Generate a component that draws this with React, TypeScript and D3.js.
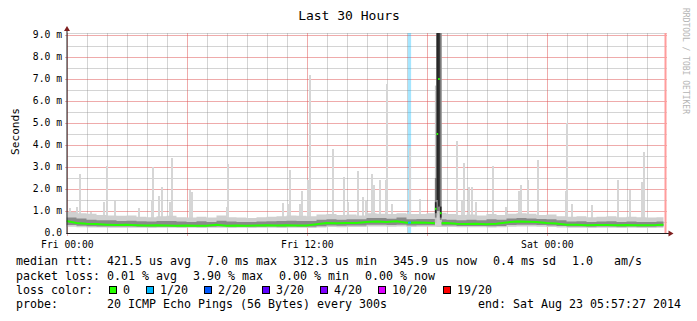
import React from "react";
import * as d3 from "d3";

// ---------- data ----------
const HOUR_MS = 3600 * 1000;
const startTime = new Date(2014, 7, 21, 23, 57, 27);
const endTime = new Date(2014, 7, 23, 5, 57, 27);

const title = "Last 30 Hours";
const yAxisTitle = "Seconds";
const watermark = "RRDTOOL / TOBI OETIKER";

const yMaxMs = 9.09;
const yTickValues = [0, 1, 2, 3, 4, 5, 6, 7, 8, 9];
const yTickLabels = ["0.0", "1.0 m", "2.0 m", "3.0 m", "4.0 m", "5.0 m", "6.0 m", "7.0 m", "8.0 m", "9.0 m"];
const xLabelTimes = [new Date(2014, 7, 22, 0, 0, 0), new Date(2014, 7, 22, 12, 0, 0), new Date(2014, 7, 23, 0, 0, 0)];
const xLabelTexts = ["Fri 00:00", "Fri 12:00", "Sat 00:00"];

// half-hour samples (ms), hour offset = i * 0.5
const sampleStepHours = 0.5;
const lastSampleHour = 29.85;
const medianMs = [
  0.55, 0.45, 0.42, 0.41, 0.38, 0.36, 0.37, 0.35, 0.34, 0.35,
  0.34, 0.33, 0.34, 0.33, 0.33, 0.37, 0.33, 0.34, 0.33, 0.34,
  0.35, 0.34, 0.35, 0.34, 0.34, 0.40, 0.45, 0.44, 0.46, 0.46,
  0.50, 0.52, 0.50, 0.53, 0.47, 0.48, 0.47, 0.44, 0.45, 0.42,
  0.41, 0.42, 0.40, 0.42, 0.48, 0.52, 0.51, 0.50, 0.45, 0.43,
  0.38, 0.37, 0.35, 0.36, 0.36, 0.35, 0.36, 0.35, 0.35, 0.36, 0.38,
];
const smokeMaxMs = [
  0.95, 0.90, 0.88, 0.82, 0.80, 0.78, 0.80, 0.74, 0.72, 0.76,
  0.78, 0.72, 0.70, 0.74, 0.70, 0.80, 0.72, 0.70, 0.68, 0.72,
  0.74, 0.76, 0.80, 0.78, 0.76, 0.84, 0.86, 0.82, 0.84, 0.80,
  0.90, 0.88, 0.86, 0.90, 0.86, 0.86, 0.90, 0.92, 0.86, 0.82,
  0.84, 0.80, 0.86, 0.82, 0.88, 0.90, 0.88, 0.82, 0.84, 0.76,
  0.74, 0.76, 0.72, 0.74, 0.76, 0.72, 0.74, 0.72, 0.70, 0.72, 0.72,
];
const smokeHiMs = [
  0.70, 0.66, 0.60, 0.58, 0.58, 0.55, 0.56, 0.53, 0.52, 0.54,
  0.55, 0.52, 0.50, 0.53, 0.50, 0.56, 0.52, 0.50, 0.50, 0.52,
  0.53, 0.54, 0.56, 0.55, 0.54, 0.60, 0.63, 0.60, 0.62, 0.62,
  0.68, 0.68, 0.65, 0.70, 0.63, 0.64, 0.64, 0.62, 0.60, 0.58,
  0.60, 0.58, 0.62, 0.60, 0.66, 0.68, 0.66, 0.64, 0.62, 0.58,
  0.52, 0.53, 0.50, 0.52, 0.53, 0.50, 0.52, 0.50, 0.50, 0.52, 0.52,
];
const smokeLoMs = [
  0.36, 0.33, 0.31, 0.30, 0.29, 0.29, 0.29, 0.28, 0.28, 0.28,
  0.28, 0.28, 0.28, 0.28, 0.28, 0.29, 0.28, 0.28, 0.28, 0.28,
  0.29, 0.28, 0.29, 0.28, 0.28, 0.31, 0.34, 0.33, 0.34, 0.34,
  0.37, 0.38, 0.36, 0.38, 0.34, 0.35, 0.35, 0.34, 0.34, 0.32,
  0.32, 0.32, 0.31, 0.32, 0.36, 0.38, 0.37, 0.36, 0.34, 0.32,
  0.29, 0.29, 0.28, 0.29, 0.29, 0.28, 0.29, 0.28, 0.28, 0.29, 0.29,
];
const smokeMinMs = [
  0.28, 0.26, 0.25, 0.25, 0.24, 0.24, 0.24, 0.24, 0.23, 0.24,
  0.24, 0.23, 0.24, 0.23, 0.24, 0.24, 0.23, 0.24, 0.23, 0.24,
  0.24, 0.23, 0.24, 0.24, 0.23, 0.25, 0.27, 0.26, 0.27, 0.27,
  0.29, 0.30, 0.28, 0.30, 0.27, 0.28, 0.28, 0.27, 0.27, 0.26,
  0.26, 0.26, 0.25, 0.26, 0.28, 0.30, 0.29, 0.28, 0.27, 0.25,
  0.24, 0.24, 0.23, 0.24, 0.24, 0.23, 0.24, 0.23, 0.23, 0.24, 0.24,
];

// isolated high pings (hour offset from start, max rtt in ms)
const spikeHours = [
  0.17, 0.52, 0.67, 1.22, 1.85, 2.03, 2.43, 3.6, 4.25, 4.33, 4.6, 4.77, 5.17, 5.27, 6.18, 6.27,
  8.0, 8.08, 10.82, 11.07, 11.18, 11.65, 11.77, 12.07, 12.18, 13.3, 13.85, 14.07, 14.57, 14.8,
  14.97, 15.27, 15.35, 15.68, 15.97, 16.02, 16.27, 17.18, 17.68, 19.53, 19.78, 19.87, 20.12,
  20.28, 20.48, 21.33, 21.95, 22.62, 22.7, 23.08, 23.58, 24.95, 25.03, 25.25, 26.25, 27.58,
  28.15, 28.78, 28.87,
];
const spikeMaxMs = [
  1.15, 1.2, 2.7, 0.95, 1.4, 3.05, 1.45, 1.15, 1.5, 3.0, 1.7, 2.1, 1.4, 3.4, 1.95, 1.85,
  1.2, 3.15, 1.35, 1.3, 2.85, 1.3, 1.9, 2.4, 7.2, 3.8, 2.55, 1.4, 2.8, 1.65,
  1.5, 2.7, 2.2, 2.4, 2.4, 6.75, 1.3, 3.85, 1.55, 4.2, 1.45, 3.2, 2.1,
  2.1, 1.4, 3.05, 1.2, 1.9, 2.2, 2.4, 3.3, 1.9, 5.0, 1.3, 1.25, 2.4,
  1.95, 2.3, 3.7,
];

// the big latency burst, 5-minute steps
const burstStepHours = 5 / 60;
const burstStartHours = [18.42, 18.5, 18.58, 18.67];
const burstMinMs = [0.45, 0.8, 0.9, 0.5];
const burstP10Ms = [0.7, 1.0, 1.0, 0.6];
const burstP25Ms = [0.9, 1.5, 1.2, 0.7];
const burstP75Ms = [1.4, 9.09, 9.09, 1.2];
const burstP90Ms = [2.5, 9.09, 9.09, 9.09];
const burstMaxMs = [6.7, 9.09, 9.09, 9.09];
const burstMedianMs = [1.1, 4.5, 7.0, 0.9];

// packet loss events
const lossStartHours = [17.07];
const lossEndHours = [17.23];

const lossColors = ["#26ff00", "#00b8ff", "#0059ff", "#5e00ff", "#7e00ff", "#dd00ff", "#ff0000"];
const lossLabels = ["0", "1/20", "2/20", "3/20", "4/20", "10/20", "19/20"];

const legendRow1 = ["median rtt:  421.5 us avg", "7.0 ms max", "312.3 us min", "345.9 us now", "0.4 ms sd", "1.0   am/s"];
const legendRow2 = ["packet loss: 0.01 % avg", "3.90 % max", "0.00 % min", "0.00 % now"];
const legendRow3Label = "loss color:";
const legendRow4 = "probe:       20 ICMP Echo Pings (56 Bytes) every 300s";
const legendEnd = "end: Sat Aug 23 05:57:27 2014";

// ---------- layout ----------
const W = 697;
const H = 321;
const X0 = 66.5;
const X1 = 666.5;
const Y0 = 233;
const Y1 = 33;
const MONO = "'DejaVu Sans Mono', 'Liberation Mono', monospace";
const CHAR_W = 7.0;
const GLUE = 16;

export default function App() {
  const x = d3.scaleTime().domain([startTime, endTime]).range([X0, X1]);
  const y = d3.scaleLinear().domain([0, yMaxMs]).range([Y0, Y1]);
  const atHour = (h: number) => new Date(startTime.getTime() + h * HOUR_MS);
  const sampleTimes = medianMs.map((_, i) => atHour(Math.min(i * sampleStepHours, lastSampleHour)));

  const band = (lo: number[], hi: number[]) =>
    d3
      .area<number>()
      .x((_, i) => x(sampleTimes[i]))
      .y0((_, i) => y(lo[i]))
      .y1((_, i) => y(hi[i]))
      .curve(d3.curveStepAfter)(lo) || "";

  const medianPath =
    d3
      .line<number>()
      .x((_, i) => x(sampleTimes[i]))
      .y((d) => y(d))
      .curve(d3.curveLinear)(medianMs) || "";

  const minorHours = d3.timeHour.every(1)!.range(startTime, endTime);
  const majorHours = minorHours.filter((d) => d.getHours() % 6 === 0);
  const minorX = minorHours.filter((d) => d.getHours() % 6 !== 0);
  const minorY = [...d3.range(0.5, yMaxMs, 1), yMaxMs];

  const burstX0 = x(atHour(burstStartHours[0]));
  const burstX1 = x(atHour(burstStartHours[burstStartHours.length - 1] + burstStepHours));
  const stepW = x(atHour(burstStepHours)) - x(atHour(0));

  // legend positions
  const row1X: number[] = [];
  legendRow1.reduce((acc, s) => { row1X.push(acc); return acc + s.length * CHAR_W + GLUE; }, 16);
  const row2X: number[] = [];
  legendRow2.reduce((acc, s) => { row2X.push(acc); return acc + s.length * CHAR_W + GLUE; }, 16);
  const boxX: number[] = [];
  lossLabels.reduce((acc, s) => { boxX.push(acc); return acc + 14 + s.length * CHAR_W + GLUE; }, 16 + legendRow3Label.length * CHAR_W + GLUE);

  const burstLayers: [number[], number[], string][] = [
    [burstMinMs, burstMaxMs, "#c4c4c4"],
    [burstP10Ms, burstP90Ms, "#7a7a7a"],
    [burstP25Ms, burstP75Ms, "#262626"],
  ];

  return (
    <svg width={W} height={H} style={{ display: "block", position: "absolute", left: 0, top: 0, background: "#fff" }}>
      <defs>
        <clipPath id="noBurst">
          <rect x={X0} y={Y1} width={burstX0 - X0} height={Y0 - Y1} />
          <rect x={burstX1} y={Y1} width={X1 - burstX1} height={Y0 - Y1} />
        </clipPath>
        <clipPath id="lossClip">
          {lossStartHours.map((h, i) => (
            <rect key={i} x={x(atHour(h))} y={Y1} width={x(atHour(lossEndHours[i])) - x(atHour(h))} height={Y0 - Y1} />
          ))}
        </clipPath>
      </defs>
      <rect x={0} y={0} width={W} height={H} fill="#fff" />

      {/* grid */}
      <g shapeRendering="crispEdges">
        {minorX.map((d, i) => (
          <line key={"mx" + i} x1={Math.round(x(d)) + 0.5} x2={Math.round(x(d)) + 0.5} y1={Y1} y2={Y0} stroke="rgb(143,143,143)" strokeOpacity={0.38} />
        ))}
        {minorY.map((v, i) => (
          <line key={"my" + i} x1={X0} x2={X1} y1={Math.round(y(v)) + 0.5} y2={Math.round(y(v)) + 0.5} stroke="rgb(143,143,143)" strokeOpacity={0.38} />
        ))}
        {majorHours.map((d, i) => (
          <line key={"Mx" + i} x1={Math.round(x(d)) + 0.5} x2={Math.round(x(d)) + 0.5} y1={Y1} y2={Y0 + 3} stroke="rgb(222,79,79)" strokeOpacity={0.48} />
        ))}
        {yTickValues.filter((v) => v > 0).map((v, i) => (
          <line key={"My" + i} x1={X0 - 2} x2={X1} y1={Math.round(y(v)) + 0.5} y2={Math.round(y(v)) + 0.5} stroke="rgb(222,79,79)" strokeOpacity={0.48} />
        ))}
      </g>

      {/* loss bands */}
      {lossStartHours.map((h, i) => (
        <rect key={"loss" + i} x={x(atHour(h))} y={Y1} width={x(atHour(lossEndHours[i])) - x(atHour(h))} height={Y0 - Y1} fill={lossColors[1]} fillOpacity={0.35} />
      ))}

      {/* isolated spikes */}
      <g shapeRendering="crispEdges">
        {spikeHours.map((h, i) => (
          <rect key={"sp" + i} x={Math.round(x(atHour(h))) - 1} width={2} y={y(spikeMaxMs[i])} height={y(0.3) - y(spikeMaxMs[i])} fill="#d6d6d6" />
        ))}
      </g>

      {/* smoke body */}
      <path d={band(smokeMinMs, smokeMaxMs)} fill="#d0d0d0" />
      <g clipPath="url(#noBurst)">
        <path d={band(smokeLoMs, smokeHiMs)} fill="#8a8a8a" />
      </g>

      {/* latency burst */}
      {burstLayers.map(([lo, hi, col], li) => (
        <g key={"bl" + li}>
          {burstStartHours.map((h, i) => (
            <rect key={i} x={x(atHour(h))} width={stepW} y={y(Math.min(hi[i], yMaxMs))} height={y(lo[i]) - y(Math.min(hi[i], yMaxMs))} fill={col} />
          ))}
        </g>
      ))}

      {/* median */}
      <g clipPath="url(#noBurst)">
        <path d={medianPath} fill="none" stroke={lossColors[0]} strokeWidth={2} />
      </g>
      <g clipPath="url(#lossClip)">
        <path d={medianPath} fill="none" stroke={lossColors[1]} strokeWidth={2} />
      </g>
      {burstStartHours.map((h, i) => (
        <rect key={"bm" + i} x={x(atHour(h))} width={stepW} y={y(burstMedianMs[i]) - 1} height={2} fill={lossColors[0]} />
      ))}

      {/* now marker */}
      <rect x={x(endTime) - 2} y={Y1} width={2} height={Y0 - Y1} fill="#ff9c9c" />

      {/* axes */}
      <line x1={X0} x2={X1 + 3} y1={Y0 + 0.5} y2={Y0 + 0.5} stroke="#1f1f1f" strokeWidth={1} />
      <line x1={X0 + 0.5} x2={X0 + 0.5} y1={Y0 + 1} y2={Y1 - 4} stroke="#1f1f1f" strokeWidth={1} />
      <path d={`M${X1 + 7},${Y0 + 0.5}L${X1 + 2},${Y0 - 2.5}L${X1 + 2},${Y0 + 3.5}Z`} fill="#7f1f1f" />
      <path d={`M${X0 + 0.5},${Y1 - 7}L${X0 - 2.5},${Y1 - 2}L${X0 + 3.5},${Y1 - 2}Z`} fill="#7f1f1f" />

      {/* y tick labels */}
      {yTickValues.map((v, i) => (
        <text key={"yl" + i} x={62} y={y(v)} dy="0.36em" textAnchor="end" fontFamily={MONO} fontSize={9.7} fill="#000">
          {yTickLabels[i]}
        </text>
      ))}
      {/* x tick labels */}
      {xLabelTimes.map((d, i) => (
        <text key={"xl" + i} x={x(d)} y={247.5} textAnchor="middle" fontFamily={MONO} fontSize={9.7} fill="#000">
          {xLabelTexts[i]}
        </text>
      ))}

      <text x={349} y={20} textAnchor="middle" fontFamily={MONO} fontSize={13} fill="#000">{title}</text>
      <text transform="translate(18.5,131.5) rotate(-90)" textAnchor="middle" fontFamily={MONO} fontSize={11.1} fill="#000">{yAxisTitle}</text>
      <text transform="translate(683,8) rotate(90)" fontFamily={MONO} fontSize={8} fill="#b4b4b4">{watermark}</text>

      {/* legend */}
      <g fontFamily={MONO} fontSize={11.63} fill="#000">
        {legendRow1.map((s, i) => (
          <text key={"r1" + i} x={row1X[i]} y={265} xmlSpace="preserve" style={{ whiteSpace: "pre" }}>{s}</text>
        ))}
        {legendRow2.map((s, i) => (
          <text key={"r2" + i} x={row2X[i]} y={279.5} xmlSpace="preserve" style={{ whiteSpace: "pre" }}>{s}</text>
        ))}
        <text x={16} y={293.5}>{legendRow3Label}</text>
        {lossLabels.map((s, i) => (
          <g key={"lc" + i}>
            <rect x={boxX[i] + 0.5} y={286.5} width={7} height={7} fill={lossColors[i]} stroke="#000" strokeWidth={1} />
            <text x={boxX[i] + 14} y={293.5}>{s}</text>
          </g>
        ))}
        <text x={16} y={308} xmlSpace="preserve" style={{ whiteSpace: "pre" }}>{legendRow4}</text>
        <text x={681} y={308} textAnchor="end">{legendEnd}</text>
      </g>
    </svg>
  );
}
